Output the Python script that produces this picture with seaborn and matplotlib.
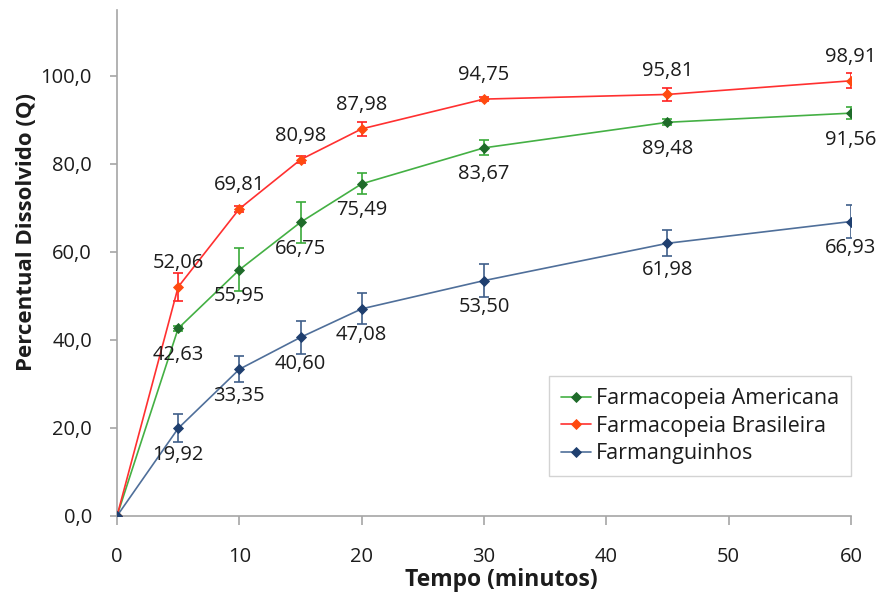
import matplotlib
matplotlib.use("Agg")
import matplotlib.pyplot as plt
import matplotlib.ticker as mticker
import seaborn as sns
import pandas as pd

# Dissolution profile data
tempo = [0, 5, 10, 15, 20, 30, 45, 60]

series_names = ["Farmacopeia Americana", "Farmacopeia Brasileira", "Farmanguinhos"]

americana = [0, 42.63, 55.95, 66.75, 75.49, 83.67, 89.48, 91.56]
americana_err = [0, 0.5, 4.9, 4.7, 2.4, 1.7, 0.7, 1.3]

brasileira = [0, 52.06, 69.81, 80.98, 87.98, 94.75, 95.81, 98.91]
brasileira_err = [0, 3.2, 0.7, 0.8, 1.6, 0.5, 1.5, 1.7]

farmanguinhos = [0, 19.92, 33.35, 40.60, 47.08, 53.50, 61.98, 66.93]
farmanguinhos_err = [0, 3.2, 3.0, 3.7, 3.5, 3.7, 3.0, 3.8]

sns.set_theme(style="white")
plt.rcParams["font.family"] = ["Open Sans", "DejaVu Sans"]

text_color = "#1c1c1c"
spine_color = "#a6a6a6"

styles = {
    "Farmacopeia Americana": dict(line="#44b044", face="#1f6b2a",
                                  err="#3aaa3a", pos="below"),
    "Farmacopeia Brasileira": dict(line="#ff3030", face="#ff4a10",
                                   err="#ff2020", pos="above"),
    "Farmanguinhos": dict(line="#4f6f9a", face="#1f3f6f",
                          err="#3f5f8a", pos="below"),
}

values = {"Farmacopeia Americana": (americana, americana_err),
          "Farmacopeia Brasileira": (brasileira, brasileira_err),
          "Farmanguinhos": (farmanguinhos, farmanguinhos_err)}

fig = plt.figure(figsize=(8.79, 5.99), dpi=100)
ax = fig.add_axes([117 / 879, 1 - 516 / 599, (851 - 117) / 879, (516 - 10) / 599])

handles = []
for name in series_names:
    y, err = values[name]
    st = styles[name]
    df = pd.DataFrame({"Tempo": tempo, "Q": y})
    sns.lineplot(data=df, x="Tempo", y="Q", ax=ax, color=st["line"], linewidth=1.2,
                 marker="D", markersize=5, markerfacecolor=st["face"],
                 markeredgecolor=st["face"], markeredgewidth=0.6, label=name,
                 legend=False, zorder=3)
    handles.append(ax.lines[-1])
    ax.errorbar(tempo[1:], y[1:], yerr=err[1:], fmt="none", ecolor=st["err"],
                elinewidth=1.2, capsize=3.5, capthick=1.2, zorder=2)
    off = 17 if st["pos"] == "above" else -19
    for xv, yv in zip(tempo[1:], y[1:]):
        ax.annotate(f"{yv:.2f}".replace(".", ","), (xv, yv), xytext=(0, off),
                    textcoords="offset points", ha="center", va="center",
                    fontsize=14.5, color=text_color, zorder=4)

ax.set_xlim(0, 60)
ax.set_ylim(0, 115)
ax.set_xticks(range(0, 61, 10))
ax.set_yticks(range(0, 101, 20))
ax.yaxis.set_major_formatter(mticker.FuncFormatter(lambda v, p: f"{v:.1f}".replace(".", ",")))

for side in ["top", "right"]:
    ax.spines[side].set_visible(False)
for side in ["left", "bottom"]:
    ax.spines[side].set_color(spine_color)
    ax.spines[side].set_linewidth(1.2)

ax.tick_params(axis="x", direction="out", length=6.5, width=1.2, color=spine_color,
               pad=16, labelsize=14.5, labelcolor=text_color, bottom=True)
ax.tick_params(axis="y", direction="out", length=5, width=1.2, color=spine_color,
               pad=13, labelsize=14.5, labelcolor=text_color, left=True)

ax.set_xlabel("Tempo (minutos)", fontsize=16.5, fontweight="bold", color=text_color)
ax.set_ylabel("Percentual Dissolvido (Q)", fontsize=16, fontweight="bold", color=text_color)
ax.xaxis.label.set_va("center")
ax.yaxis.label.set_va("center")
ax.xaxis.set_label_coords((501 - 117) / 734, (516 - 580) / 506)
ax.yaxis.set_label_coords((26 - 117) / 734, (516 - 232) / 506)

leg = ax.legend(handles=handles, labels=series_names, loc="lower right",
                bbox_to_anchor=(1.0, 40 / 506), borderaxespad=0, fontsize=15.5,
                frameon=True, fancybox=False, edgecolor="#c8c8c8",
                handlelength=1.4, handletextpad=0.25, labelspacing=0.3,
                borderpad=0.55)
leg.get_frame().set_linewidth(1.0)
for t in leg.get_texts():
    t.set_color(text_color)

fig.savefig("out.png", dpi=100)
